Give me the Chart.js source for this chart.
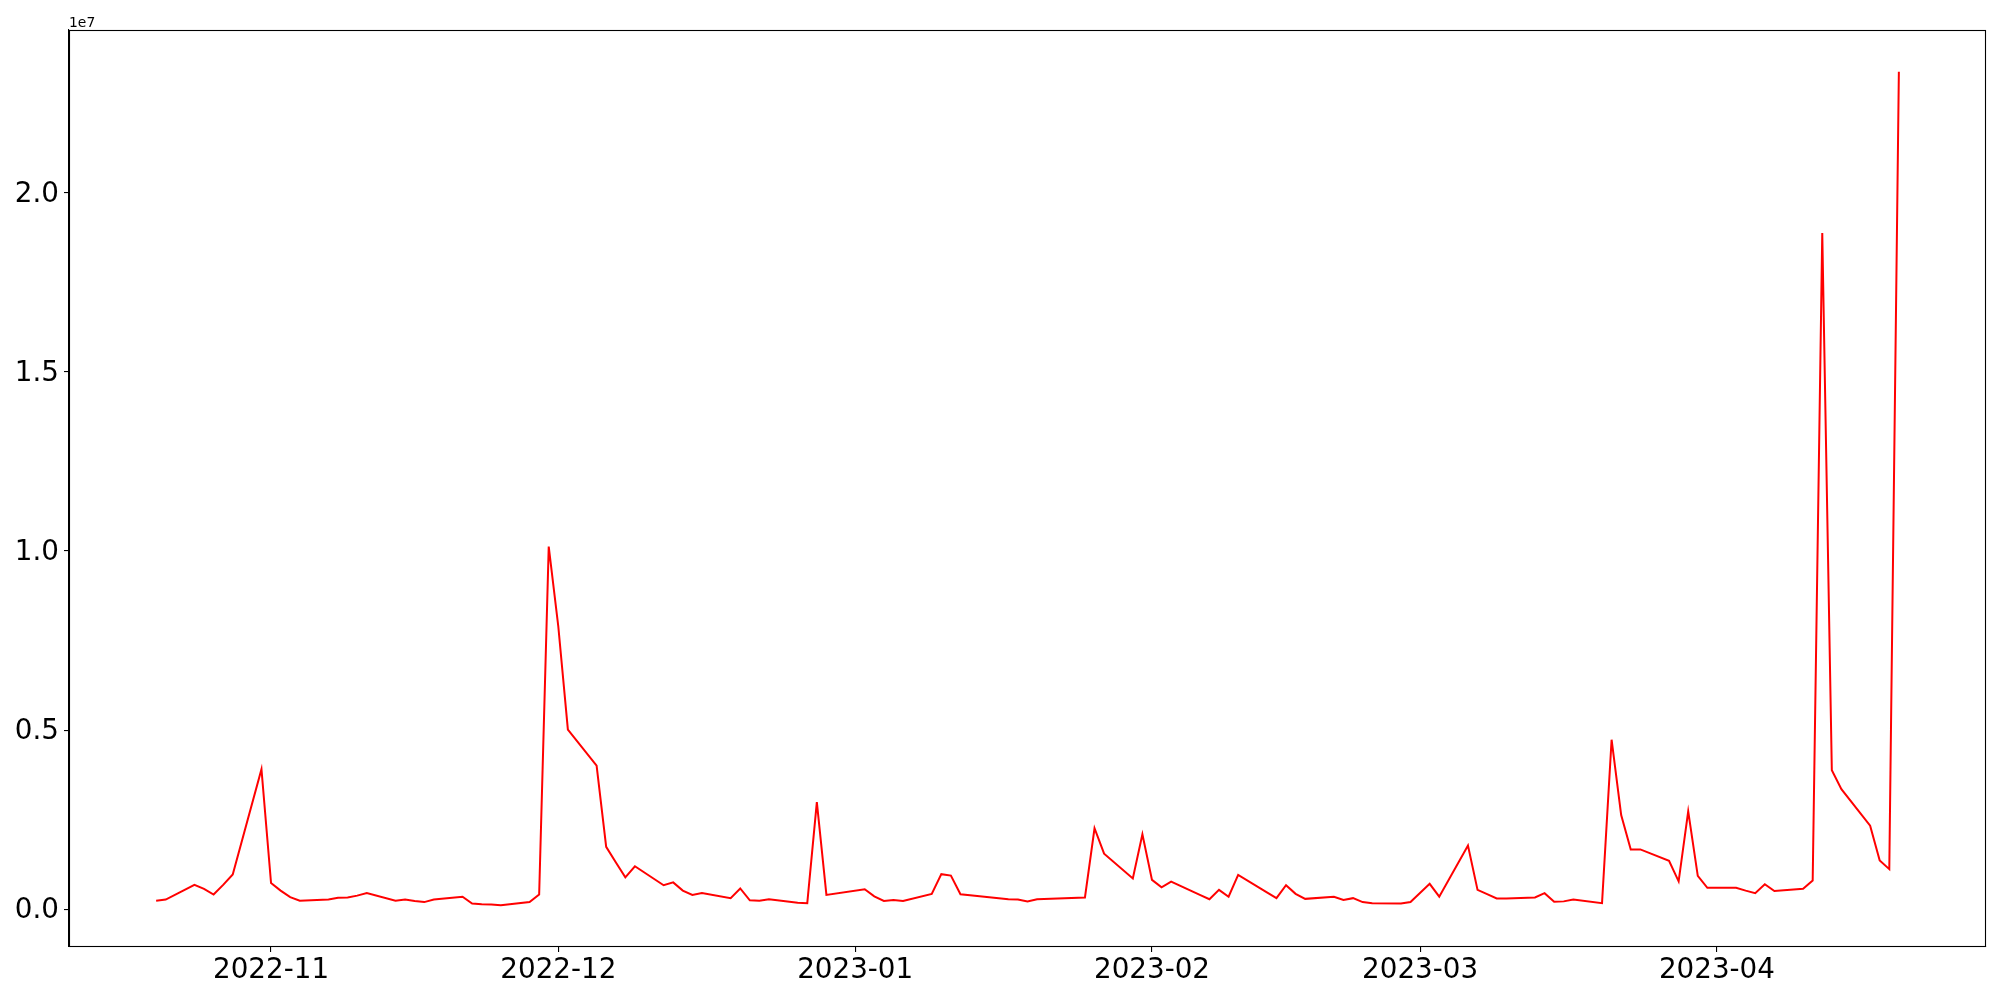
<!DOCTYPE html>
<html><head><meta charset="utf-8">
<script src="https://cdn.jsdelivr.net/npm/chart.js@4"></script>
<style>html,body{margin:0;padding:0;background:#fff}#wrap{width:2000px;height:1000px}</style>
</head><body><div id="wrap"><canvas id="c" width="2000" height="1000"></canvas></div>
<script>
// ---- data ----
const dates = [
 '2022-10-20','2022-10-21','2022-10-24','2022-10-25','2022-10-26','2022-10-27','2022-10-28','2022-10-31',
 '2022-11-01','2022-11-02','2022-11-03','2022-11-04','2022-11-07','2022-11-08','2022-11-09','2022-11-10','2022-11-11',
 '2022-11-14','2022-11-15','2022-11-16','2022-11-17','2022-11-18','2022-11-21','2022-11-22','2022-11-23','2022-11-24','2022-11-25',
 '2022-11-28','2022-11-29','2022-11-30','2022-12-01','2022-12-02','2022-12-05','2022-12-06','2022-12-07','2022-12-08','2022-12-09',
 '2022-12-12','2022-12-13','2022-12-14','2022-12-15','2022-12-16','2022-12-19','2022-12-20','2022-12-21','2022-12-22','2022-12-23',
 '2022-12-26','2022-12-27','2022-12-28','2022-12-29','2023-01-02','2023-01-03','2023-01-04','2023-01-05','2023-01-06',
 '2023-01-09','2023-01-10','2023-01-11','2023-01-12','2023-01-13','2023-01-16','2023-01-17','2023-01-18','2023-01-19','2023-01-20',
 '2023-01-25','2023-01-26','2023-01-27','2023-01-30','2023-01-31','2023-02-01','2023-02-02','2023-02-03',
 '2023-02-06','2023-02-07','2023-02-08','2023-02-09','2023-02-10','2023-02-13','2023-02-14','2023-02-15','2023-02-16','2023-02-17',
 '2023-02-20','2023-02-21','2023-02-22','2023-02-23','2023-02-24','2023-02-27','2023-02-28','2023-03-02','2023-03-03',
 '2023-03-06','2023-03-07','2023-03-08','2023-03-09','2023-03-10','2023-03-13','2023-03-14','2023-03-15','2023-03-16','2023-03-17',
 '2023-03-20','2023-03-21','2023-03-22','2023-03-23','2023-03-24','2023-03-27','2023-03-28','2023-03-29','2023-03-30','2023-03-31',
 '2023-04-03','2023-04-04','2023-04-05','2023-04-06','2023-04-07','2023-04-10','2023-04-11','2023-04-12','2023-04-13','2023-04-14',
 '2023-04-17','2023-04-18','2023-04-19','2023-04-20'
];
const volumes = [
 240000,270000,680000,570000,410000,680000,970000,3910000,
 730000,520000,340000,240000,270000,320000,330000,380000,450000,
 240000,270000,230000,200000,270000,350000,160000,140000,130000,110000,
 200000,410000,10120000,7890000,5010000,4010000,1740000,1310000,890000,1200000,
 670000,750000,520000,400000,450000,310000,580000,250000,240000,280000,
 180000,170000,2990000,400000,560000,360000,230000,260000,230000,
 430000,980000,940000,420000,390000,310000,280000,270000,220000,280000,
 330000,2260000,1550000,860000,2090000,820000,610000,770000,
 400000,280000,540000,350000,960000,470000,310000,670000,430000,290000,
 350000,260000,310000,200000,170000,160000,200000,710000,350000,
 1780000,540000,420000,300000,300000,330000,450000,210000,220000,270000,
 170000,4730000,2630000,1670000,1670000,1350000,780000,2730000,930000,600000,
 600000,520000,450000,700000,510000,570000,800000,18870000,3880000,3350000,
 2330000,1360000,1120000,23370000
];
const monthTicks = ['2022-11-01','2022-12-01','2023-01-01','2023-02-01','2023-03-01','2023-04-01'];
const yTicks = [0, 5000000, 10000000, 15000000, 20000000];
const yTickLabels = ['0.0','0.5','1.0','1.5','2.0'];
const offsetText = '1e7';

// ---- helpers ----
function toDay(s){ const p = s.split('-').map(Number); return Date.UTC(p[0], p[1]-1, p[2]) / 86400000; }
function dayLabel(v){ const d = new Date(Math.round(v) * 86400000); return d.getUTCFullYear() + '-' + String(d.getUTCMonth()+1).padStart(2,'0'); }

const points = dates.map((d,i) => ({x: toDay(d), y: volumes[i]}));
const xs = points.map(p=>p.x), ys = points.map(p=>p.y);
const xMinD = Math.min(...xs), xMaxD = Math.max(...xs);
const yMinD = Math.min(...ys), yMaxD = Math.max(...ys);
const xPad = (xMaxD - xMinD) * 0.05, yPad = (yMaxD - yMinD) * 0.05;

const FONT = "'DejaVu Sans', 'Liberation Sans', sans-serif";

const boxPlugin = {
  id: 'box',
  afterDraw(chart){
    const {ctx, chartArea:a} = chart;
    ctx.save();
    ctx.strokeStyle = '#000'; ctx.lineWidth = 1.1;
    ctx.strokeRect(Math.round(a.left)+0.5, Math.round(a.top)+0.5, Math.round(a.right-a.left)-1, Math.round(a.bottom-a.top)-1);
    ctx.fillStyle = '#000';
    ctx.font = '13.9px ' + FONT;
    ctx.textAlign = 'left'; ctx.textBaseline = 'alphabetic';
    ctx.fillText(offsetText, a.left, 26.5);
    ctx.restore();
  }
};

new Chart(document.getElementById('c'), {
  type: 'line',
  data: { datasets: [{
    data: points, borderColor: '#ff0000', borderWidth: 2, pointRadius: 0, tension: 0, fill: false
  }]},
  options: {
    responsive: false, animation: false, devicePixelRatio: 1,
    layout: { padding: { top: 30, right: 14, left: 0, bottom: 0 } },
    plugins: { legend: { display: false }, tooltip: { enabled: false } },
    scales: {
      x: {
        type: 'linear', min: xMinD - xPad, max: xMaxD + xPad,
        afterBuildTicks(s){ s.ticks = monthTicks.map(m => ({value: toDay(m)})); },
        afterFit(s){ s.height = 53; },
        ticks: { autoSkip: false, maxRotation: 0, color: '#000', padding: 2,
          font: { family: FONT, size: 27.78 }, callback: v => dayLabel(v) },
        grid: { display: true, drawOnChartArea: false, drawTicks: true, tickLength: 5, color: '#000', lineWidth: 1.1 },
        border: { display: true, color: '#000', width: 1.1 }
      },
      y: {
        type: 'linear', min: yMinD - yPad, max: yMaxD + yPad,
        afterBuildTicks(s){ s.ticks = yTicks.map(v => ({value: v})); },
        afterFit(s){ s.width = 69; },
        ticks: { color: '#000', padding: 5, labelOffset: 2, font: { family: FONT, size: 27.78 },
          callback: (v) => { const i = yTicks.indexOf(v); return i >= 0 ? yTickLabels[i] : ''; } },
        grid: { display: true, drawOnChartArea: false, drawTicks: true, tickLength: 5, color: '#000', lineWidth: 1.1 },
        border: { display: true, color: '#000', width: 1.1 }
      }
    }
  },
  plugins: [boxPlugin]
});
</script></body></html>
